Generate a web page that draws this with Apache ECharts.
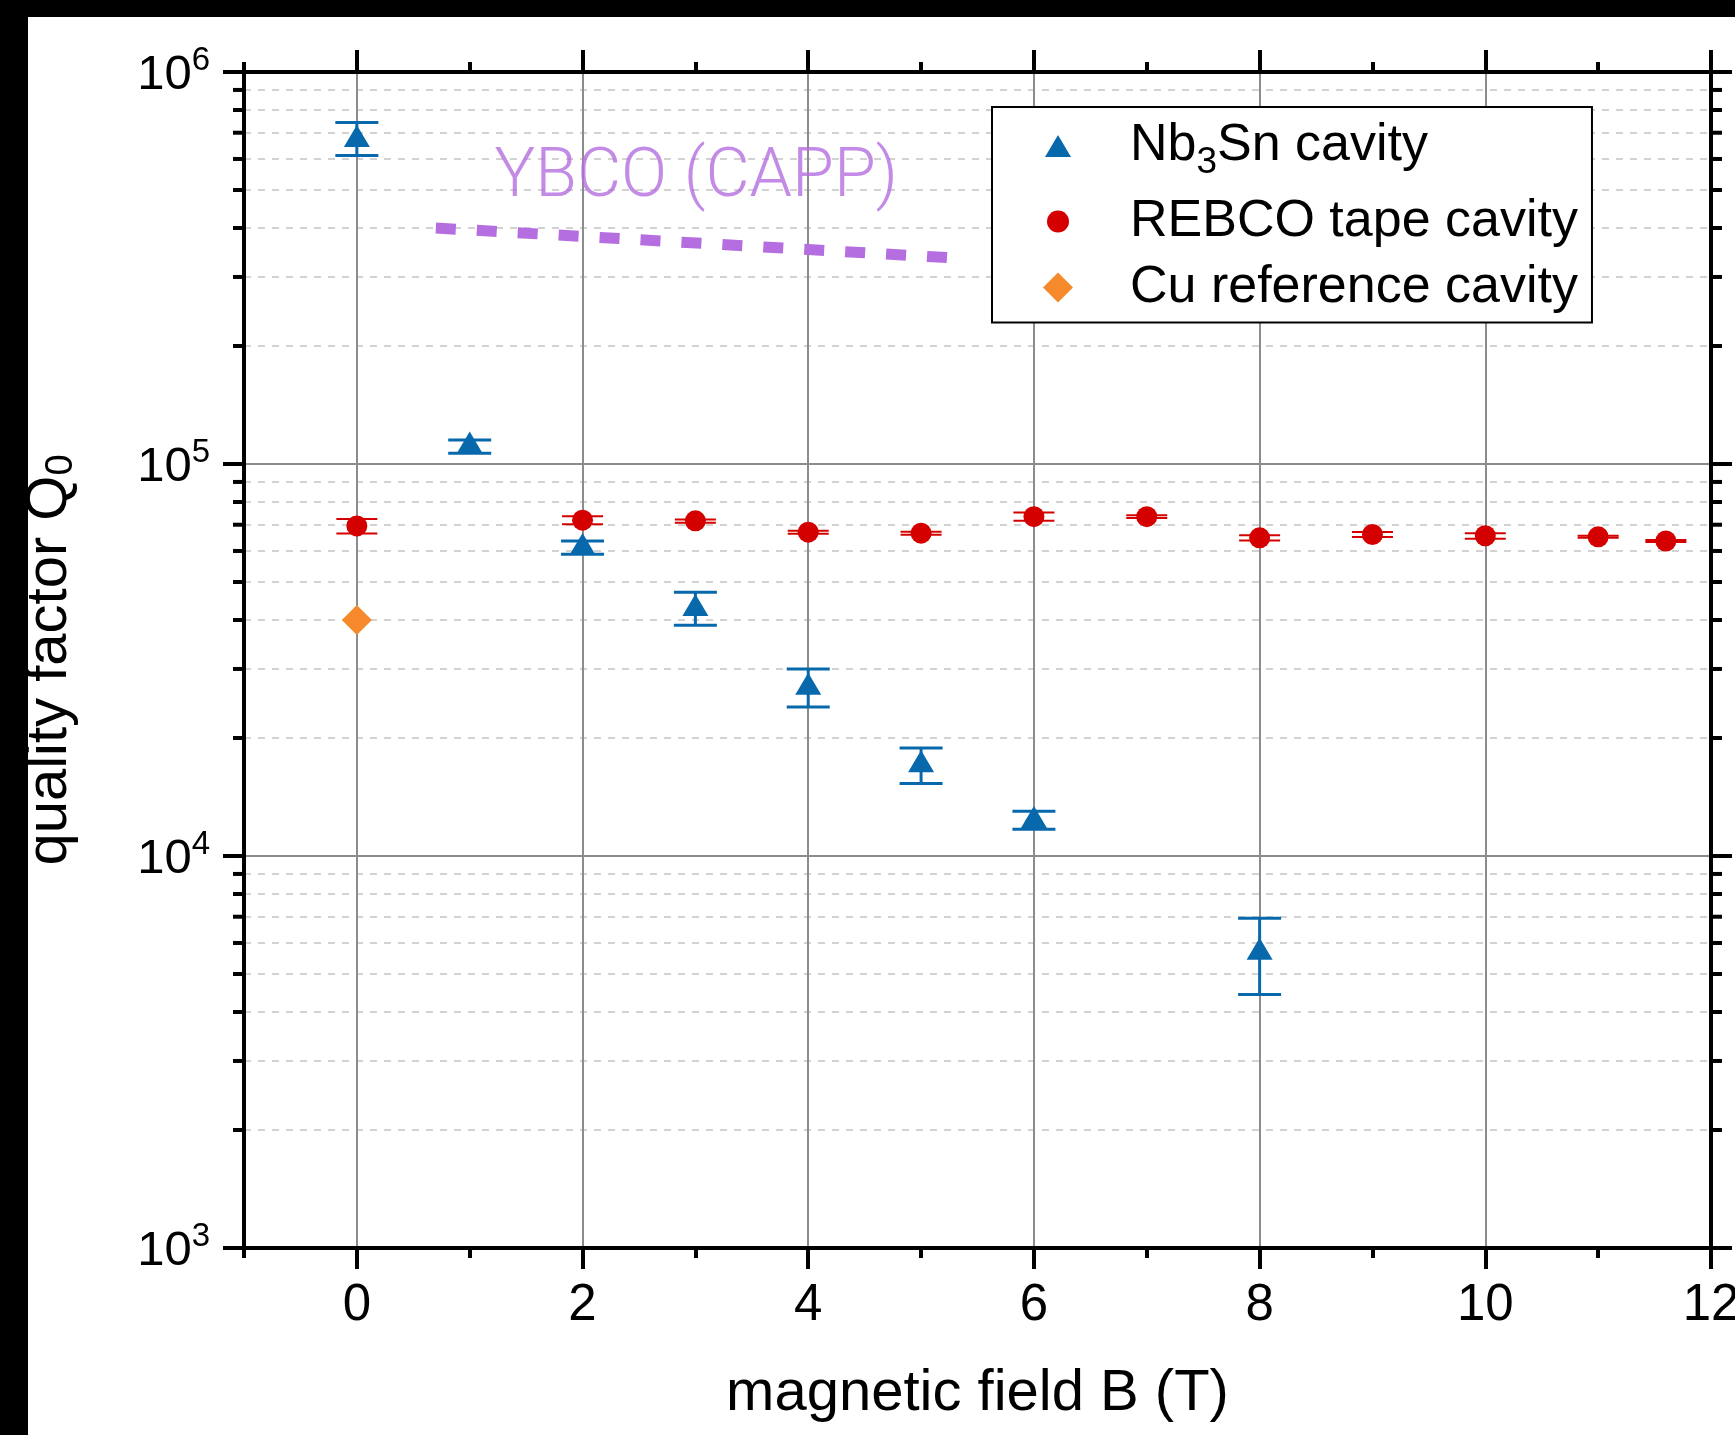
<!DOCTYPE html>
<html>
<head>
<meta charset="utf-8">
<script src="https://cdn.jsdelivr.net/npm/echarts@6/dist/echarts.min.js"></script>
<style>
html,body{margin:0;padding:0;background:#000;width:1735px;height:1435px;overflow:hidden;}
#c{position:absolute;left:28px;top:17px;width:1707px;height:1418px;background:#fff;}
</style>
</head>
<body>
<div id="c"></div>
<script>
// ---------------- data ----------------
const nbField = [0, 1, 2, 3, 4, 5, 6, 8];
const nbQ     = [6.87e5, 1.134e5, 6.25e4, 4.37e4, 2.75e4, 1.744e4, 1.258e4, 5.80e3];
const nbQHigh = [7.43e5, 1.151e5, 6.36e4, 4.71e4, 3.00e4, 1.885e4, 1.30e4, 6.94e3];
const nbQLow  = [6.12e5, 1.065e5, 5.885e4, 3.88e4, 2.40e4, 1.53e4, 1.17e4, 4.43e3];

const reField = [0, 2, 3, 4, 5, 6, 7, 8, 9, 10, 11, 11.6];
const reQ     = [6.95e4, 7.19e4, 7.16e4, 6.70e4, 6.66e4, 7.34e4, 7.34e4, 6.48e4, 6.61e4, 6.56e4, 6.52e4, 6.36e4];
const reQHigh = [7.24e4, 7.36e4, 7.22e4, 6.76e4, 6.72e4, 7.52e4, 7.40e4, 6.58e4, 6.71e4, 6.66e4, 6.56e4, 6.40e4];
const reQLow  = [6.65e4, 7.02e4, 7.08e4, 6.64e4, 6.60e4, 7.16e4, 7.28e4, 6.38e4, 6.51e4, 6.45e4, 6.48e4, 6.32e4];

const cuField = [0];
const cuQ     = [4.0e4];

const ybcoField = [0.7, 5.25];
const ybcoQ     = [4.0e5, 3.36e5];

const xMajorTicks = [0, 2, 4, 6, 8, 10, 12];
const xMinorTicks = [-1, 1, 3, 5, 7, 9, 11];
const yMinorTicks = [2e3, 3e3, 4e3, 5e3, 6e3, 7e3, 8e3, 9e3,
                     2e4, 3e4, 4e4, 5e4, 6e4, 7e4, 8e4, 9e4,
                     2e5, 3e5, 4e5, 5e5, 6e5, 7e5, 8e5, 9e5];

const seriesNames = ['Nb3Sn cavity', 'REBCO tape cavity', 'Cu reference cavity'];

// ---------------- styles ----------------
const F = "'Liberation Sans', Arial, sans-serif";
const BLUE = '#0868ac', RED = '#d40000', ORANGE = '#f5892b', PURPLE = '#b46ee0';
const axisLine = {show: true, onZero: false, lineStyle: {color: '#000', width: 4}};
const tickStyle = {color: '#000', width: 4};
const noLabel = {show: false};

// legend icons (30x30 box; leading moveTos fix the box so the glyph keeps its own size)
const ICON_TRI = 'path://M0,0M30,30M2,26L15,4L28,26Z';
const ICON_CIRC = 'path://M0,0M30,30M4,15A11,11 0 1 0 26,15A11,11 0 1 0 4,15Z';
const ICON_DIAM = 'path://M0,0M30,30M15,0L30,15L15,30L0,15Z';

function errorBar(capWidth, lineWidth, color) {
  return function (params, api) {
    const x = api.value(0);
    const top = api.coord([x, api.value(2)]);
    const bot = api.coord([x, api.value(1)]);
    const h = capWidth / 2;
    const style = {stroke: color, lineWidth: lineWidth};
    return {type: 'group', children: [
      {type: 'line', shape: {x1: top[0], y1: top[1], x2: bot[0], y2: bot[1]}, style: style},
      {type: 'line', shape: {x1: top[0] - h, y1: top[1], x2: top[0] + h, y2: top[1]}, style: style},
      {type: 'line', shape: {x1: bot[0] - h, y1: bot[1], x2: bot[0] + h, y2: bot[1]}, style: style}
    ]};
  };
}

// minor ticks of the log axis (2..9 x 10^k), on the left and right frame edges
function minorYTick(len, width) {
  return function (params, api) {
    const cs = params.coordSys;
    const y = api.coord([0, api.value(1)])[1];
    const style = {stroke: '#000', lineWidth: width};
    return {type: 'group', children: [
      {type: 'line', shape: {x1: cs.x - len, y1: y, x2: cs.x, y2: y}, style: style},
      {type: 'line', shape: {x1: cs.x + cs.width, y1: y, x2: cs.x + cs.width + len, y2: y}, style: style}
    ]};
  };
}

const chart = echarts.init(document.getElementById('c'), null, {renderer: 'canvas'});

const minorLog = yMinorTicks.map(v => Math.log10(v));

const option = {
  backgroundColor: '#fff',
  animation: false,
  grid: {left: 216, top: 55, right: 24, bottom: 187, containLabel: false, outerBoundsMode: 'none'},
  legend: {
    data: [
      {name: seriesNames[0], icon: ICON_TRI},
      {name: seriesNames[1], icon: ICON_CIRC},
      {name: seriesNames[2], icon: ICON_DIAM}
    ],
    orient: 'vertical',
    left: 964, top: 90,
    padding: [13, 14, 9, 51],
    itemGap: 14,
    itemWidth: 30, itemHeight: 30,
    symbolKeepAspect: true,
    backgroundColor: '#fff',
    borderColor: '#000', borderWidth: 2,
    z: 20,
    formatter: function (name) {
      if (name === 'Nb3Sn cavity') return '{n|Nb}{s|3}{n|Sn cavity}';
      return '{n|' + name + '}';
    },
    textStyle: {
      fontFamily: F, fontSize: 52, color: '#000', lineHeight: 51,
      padding: [0, 0, 0, 52],
      rich: {
        n: {fontFamily: F, fontSize: 52, color: '#000', lineHeight: 51},
        s: {fontFamily: F, fontSize: 37, color: '#000', lineHeight: 51, verticalAlign: 'bottom', padding: [0, 0, -10, 0]}
      }
    }
  },
  xAxis: [
    {
      type: 'value', position: 'bottom', min: -1, max: 12,
      axisLine: axisLine,
      axisTick: {show: true, customValues: xMajorTicks, length: 21, lineStyle: tickStyle},
      axisLabel: {show: true, customValues: xMajorTicks, margin: 32, fontSize: 51, fontFamily: F, color: '#000'},
      splitLine: {show: true, lineStyle: {color: '#8c8c8c', width: 2}},
      name: 'magnetic field B (T)', nameLocation: 'middle', nameGap: 117,
      nameTextStyle: {fontSize: 58, fontFamily: F, color: '#000'}
    },
    {
      type: 'value', position: 'bottom', min: -1, max: 12,
      axisLine: {show: false, onZero: false},
      axisTick: {show: true, customValues: xMinorTicks, length: 10, lineStyle: tickStyle},
      axisLabel: noLabel, splitLine: {show: false}
    },
    {
      type: 'value', position: 'top', min: -1, max: 12,
      axisLine: axisLine,
      axisTick: {show: true, customValues: xMajorTicks, length: 22, lineStyle: tickStyle},
      axisLabel: noLabel, splitLine: {show: false}
    },
    {
      type: 'value', position: 'top', min: -1, max: 12,
      axisLine: {show: false, onZero: false},
      axisTick: {show: true, customValues: xMinorTicks, length: 10, lineStyle: tickStyle},
      axisLabel: noLabel, splitLine: {show: false}
    }
  ],
  yAxis: [
    {
      type: 'log', logBase: 10, min: 1e3, max: 1e6, position: 'left',
      axisLine: axisLine,
      axisTick: {show: true, length: 21, lineStyle: tickStyle},
      axisLabel: {
        show: true, margin: 34,
        formatter: function (v) { return '{b|10}{s|' + Math.round(Math.log10(v)) + '}'; },
        rich: {
          b: {fontFamily: F, fontSize: 49, color: '#000', lineHeight: 56, verticalAlign: 'bottom'},
          s: {fontFamily: F, fontSize: 33, color: '#000', lineHeight: 33, verticalAlign: 'top'}
        }
      },
      splitLine: {show: true, lineStyle: {color: '#8c8c8c', width: 2}},
      name: '{a|quality factor Q}{s|0}', nameLocation: 'middle', nameGap: 163,
      nameTextStyle: {
        rich: {
          a: {fontFamily: F, fontSize: 58, color: '#000', verticalAlign: 'top'},
          s: {fontFamily: F, fontSize: 38, color: '#000', lineHeight: 60, verticalAlign: 'bottom'}
        }
      }
    },
    {
      type: 'value', min: 3, max: 6, position: 'left',
      axisLine: {show: false, onZero: false},
      axisTick: {show: false, customValues: minorLog},
      axisLabel: noLabel,
      splitLine: {show: true, lineStyle: {color: '#d2d2d2', width: 2, type: [7, 7]}}
    },
    {
      type: 'log', logBase: 10, min: 1e3, max: 1e6, position: 'right',
      axisLine: axisLine,
      axisTick: {show: true, length: 21, lineStyle: tickStyle},
      axisLabel: noLabel, splitLine: {show: false}
    }
  ],
  series: [
    {
      name: 'y minor ticks', type: 'custom', xAxisIndex: 0, yAxisIndex: 0, z: 10,
      data: yMinorTicks.map(v => [0, v]),
      encode: {x: 0, y: 1},
      renderItem: minorYTick(11, 4), silent: true, clip: false
    },
    {
      name: 'YBCO (CAPP)', type: 'line', xAxisIndex: 0, yAxisIndex: 0, z: 3,
      data: ybcoField.map((b, i) => [b, ybcoQ[i]]),
      symbol: 'none', silent: true,
      lineStyle: {color: PURPLE, width: 11, type: [20, 21], cap: 'butt'}
    },
    {
      name: 'YBCO label', type: 'scatter', xAxisIndex: 0, yAxisIndex: 0, z: 3,
      data: [[1.22, 5.32e5]], symbolSize: 0, silent: true,
      label: {show: true, position: 'right', distance: 0, formatter: 'YBCO (CAPP)',
        fontFamily: 'Roboto', fontWeight: 300, fontSize: 68, color: PURPLE}
    },
    {
      name: 'Nb3Sn error', type: 'custom', xAxisIndex: 0, yAxisIndex: 0, z: 4,
      data: nbField.map((b, i) => [b, nbQLow[i], nbQHigh[i]]),
      encode: {x: 0, y: [1, 2]},
      renderItem: errorBar(43, 3, BLUE), silent: true
    },
    {
      name: 'REBCO error', type: 'custom', xAxisIndex: 0, yAxisIndex: 0, z: 4,
      data: reField.map((b, i) => [b, reQLow[i], reQHigh[i]]),
      encode: {x: 0, y: [1, 2]},
      renderItem: errorBar(41, 2, RED), silent: true
    },
    {
      name: seriesNames[0], type: 'scatter', xAxisIndex: 0, yAxisIndex: 0, z: 5,
      data: nbField.map((b, i) => [b, nbQ[i]]),
      symbol: 'triangle', symbolSize: [26, 22],
      itemStyle: {color: BLUE, opacity: 1}
    },
    {
      name: seriesNames[1], type: 'scatter', xAxisIndex: 0, yAxisIndex: 0, z: 5,
      data: reField.map((b, i) => [b, reQ[i]]),
      symbol: 'circle', symbolSize: 21,
      itemStyle: {color: RED, opacity: 1}
    },
    {
      name: seriesNames[2], type: 'scatter', xAxisIndex: 0, yAxisIndex: 0, z: 5,
      data: cuField.map((b, i) => [b, cuQ[i]]),
      symbol: 'diamond', symbolSize: 30,
      itemStyle: {color: ORANGE, opacity: 1}
    }
  ]
};

chart.setOption(option);
</script>
</body>
</html>
